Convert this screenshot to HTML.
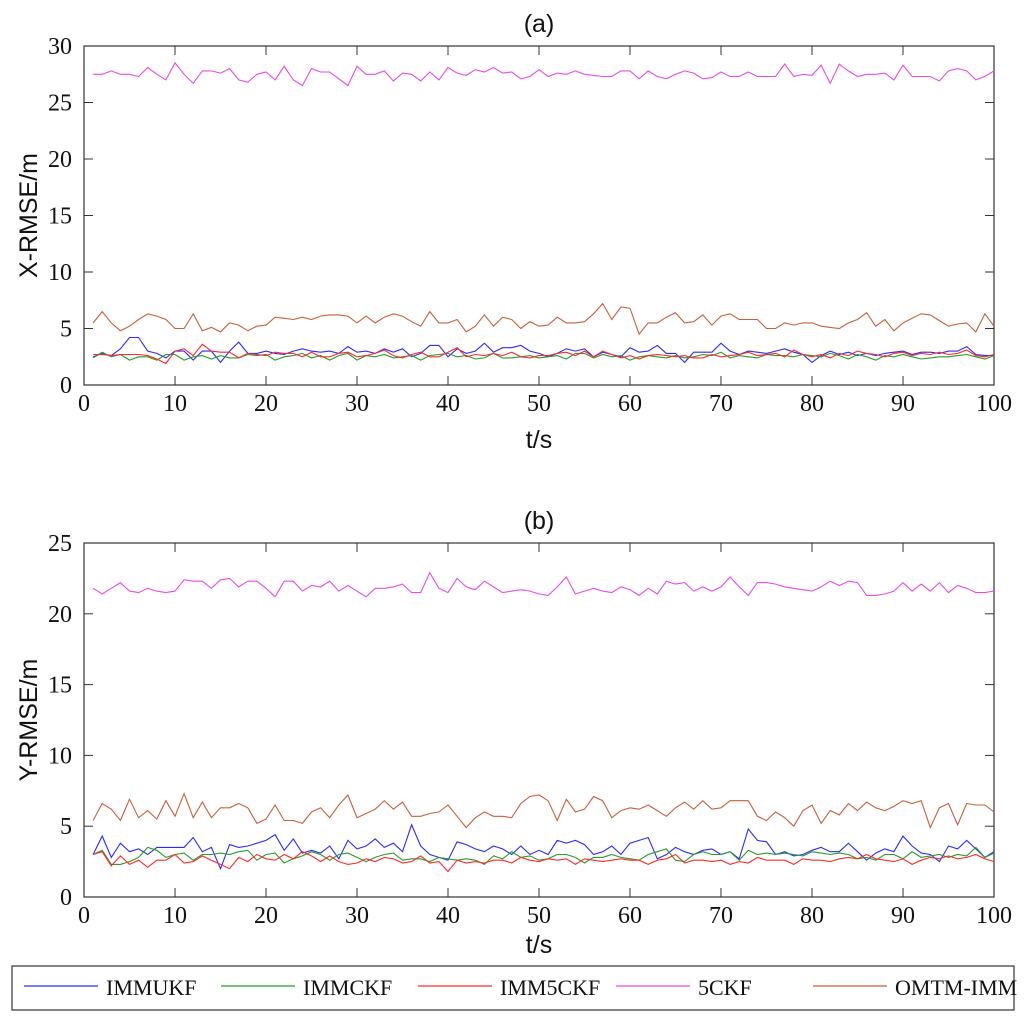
<!DOCTYPE html>
<html><head><meta charset="utf-8"><style>
body{margin:0;background:#fff}
svg{display:block}
.tick{font-family:"Liberation Serif",serif;font-size:24px;fill:#111}
.lab{font-family:"Liberation Sans",sans-serif;font-size:25px;fill:#111}
.leg{font-family:"Liberation Serif",serif;font-size:22px;fill:#111}
</style></head><body>
<svg id="chart" width="1024" height="1021" xmlns="http://www.w3.org/2000/svg"></svg>
<script>
const seriesNames=["IMMUKF","IMMCKF","IMM5CKF","5CKF","OMTM-IMM"];
const seriesColors=["#2b2bff","#2a9a2a","#ff2a2a","#e84ce8","#c8603a"];
const xTicks=[0,10,20,30,40,50,60,70,80,90,100];
const yTicksA=[0,5,10,15,20,25,30];
const yTicksB=[0,5,10,15,20,25];
const aUKF=[2.5,2.8,2.6,3.2,4.2,4.2,3.0,2.8,2.4,3.0,3.0,2.2,3.0,3.0,2.0,3.0,3.8,2.8,2.8,3.0,2.8,2.7,3.0,3.2,3.0,2.9,3.0,2.8,3.4,2.9,3.0,2.8,3.2,2.9,3.2,2.5,2.8,3.5,3.5,2.5,3.2,2.8,3.0,3.7,2.9,3.3,3.3,3.5,3.0,2.8,2.5,2.8,3.2,3.0,3.2,2.5,2.9,2.7,2.5,3.3,2.9,3.0,3.5,2.8,2.8,2.0,2.9,2.9,2.9,3.7,3.0,2.7,3.0,2.9,2.8,3.0,3.2,2.9,2.7,2.0,2.6,3.0,2.7,2.9,2.6,2.8,2.6,2.8,2.9,3.0,2.7,2.9,2.9,2.8,3.0,3.0,3.4,2.7,2.6,2.6];
const aCKF=[2.4,2.9,2.5,2.7,2.2,2.5,2.5,2.2,2.7,2.7,2.2,2.5,2.6,2.3,2.6,2.4,2.4,2.7,2.6,2.7,2.2,2.5,2.6,2.8,2.4,2.6,2.2,2.6,2.8,2.2,2.6,2.5,2.7,2.4,2.5,2.6,2.2,2.6,2.7,2.8,2.5,2.6,2.3,2.4,2.8,2.4,2.4,2.5,2.6,2.4,2.5,2.6,2.3,2.8,2.8,2.4,2.7,2.5,2.6,2.2,2.5,2.6,2.5,2.4,2.6,2.4,2.5,2.7,2.6,2.9,2.4,2.6,2.5,2.4,2.7,2.6,2.6,2.5,2.7,2.6,2.5,2.8,2.6,2.3,2.7,2.5,2.2,2.6,2.5,2.7,2.5,2.3,2.4,2.5,2.5,2.6,2.7,2.5,2.3,2.6];
const aCKF5=[2.7,2.7,2.6,2.7,2.7,2.7,2.6,2.3,1.9,3.0,3.2,2.6,3.6,3.0,2.9,2.9,2.4,2.8,2.7,2.6,2.9,2.8,2.8,2.5,2.9,2.5,2.5,2.8,2.9,2.5,2.6,2.8,3.1,2.6,2.4,2.7,2.9,2.5,2.5,2.9,3.3,2.5,2.7,2.6,2.8,2.6,2.9,2.5,2.4,2.6,2.6,2.8,2.9,2.6,3.0,2.5,3.0,2.7,2.4,2.6,2.3,2.6,2.7,2.6,2.5,2.6,2.4,2.4,2.7,2.5,2.6,2.7,2.9,2.6,2.7,2.8,2.5,3.1,2.7,2.5,2.7,2.4,2.8,2.6,3.0,2.8,2.7,2.5,2.8,2.9,2.6,2.8,2.7,2.9,2.7,2.8,3.1,2.6,2.5,2.7];
const a5CKF=[27.5,27.5,27.8,27.5,27.5,27.3,28.1,27.5,27.0,28.5,27.5,26.7,27.8,27.8,27.6,28.0,27.0,26.8,27.5,27.7,27.0,28.2,27.0,26.5,28.0,27.7,27.7,27.1,26.5,28.2,27.5,27.5,27.8,26.9,27.6,27.5,26.9,27.7,27.0,28.1,27.6,27.4,27.9,27.7,28.1,27.6,27.7,27.1,27.3,27.9,27.3,27.6,27.5,27.8,27.5,27.4,27.3,27.3,27.8,27.8,27.1,27.8,27.3,27.1,27.5,27.8,27.6,27.1,27.2,27.7,27.3,27.3,27.7,27.3,27.3,27.3,28.4,27.3,27.5,27.4,28.3,26.7,28.4,27.8,27.3,27.5,27.5,27.6,27.0,28.3,27.3,27.3,27.3,26.9,27.8,28.0,27.8,27.0,27.3,27.8];
const aOMTM=[5.5,6.5,5.5,4.8,5.2,5.8,6.3,6.1,5.8,5.0,5.0,6.3,4.8,5.1,4.7,5.5,5.3,4.8,5.2,5.3,6.0,5.9,5.8,6.0,5.8,6.1,6.2,6.2,6.1,5.5,6.1,5.5,6.0,6.3,6.1,5.6,5.2,6.5,5.5,5.5,5.8,4.7,5.2,6.2,5.2,6.0,5.8,5.0,5.6,5.2,5.3,6.0,5.5,5.5,5.6,6.3,7.2,5.8,6.9,6.8,4.5,5.5,5.5,6.0,6.4,5.5,5.6,6.2,5.3,6.1,6.3,5.8,5.8,5.8,5.0,5.0,5.5,5.3,5.5,5.5,5.2,5.1,5.0,5.5,5.8,6.4,5.2,5.8,4.8,5.5,5.9,6.3,6.2,5.7,5.2,5.4,5.5,4.7,6.3,5.2];
const bUKF=[3.0,4.3,2.8,3.8,3.2,3.4,3.0,3.5,3.5,3.5,3.5,4.2,3.2,3.5,2.0,3.7,3.5,3.6,3.8,4.0,4.4,3.3,4.1,3.1,3.3,3.1,3.6,2.7,4.0,3.4,3.6,4.1,3.5,3.8,3.2,5.1,3.6,3.0,2.8,2.6,3.9,3.7,3.4,3.2,3.6,3.4,3.0,3.6,3.0,3.3,3.0,4.0,3.8,4.0,3.7,3.0,3.2,3.6,3.0,3.8,4.0,4.2,2.7,3.0,3.5,3.2,3.0,3.3,3.4,3.0,3.2,2.7,4.8,4.0,3.9,3.0,3.2,2.9,3.0,3.3,3.5,3.2,3.2,3.8,3.2,2.6,3.1,3.4,3.2,4.3,3.6,3.1,3.0,2.5,3.6,3.4,4.0,3.4,2.8,3.2];
const bCKF=[3.0,3.3,2.3,2.3,2.5,2.8,3.5,3.3,2.8,3.0,3.1,2.6,3.0,3.0,3.1,3.0,3.2,3.3,2.6,3.0,3.1,2.4,2.7,2.9,3.2,3.0,2.6,3.0,3.1,2.8,2.5,2.8,3.0,3.1,2.6,2.7,2.7,2.5,2.8,2.7,2.6,2.7,2.6,2.3,2.9,2.7,3.2,2.8,2.9,2.6,2.7,3.0,3.0,2.8,2.4,2.8,2.8,3.0,2.8,2.7,2.6,3.0,3.2,3.4,2.6,2.5,3.0,3.2,3.0,3.0,3.2,2.6,3.3,3.0,3.1,3.0,3.1,3.0,2.9,3.2,3.1,3.0,3.1,3.0,2.7,2.8,2.6,3.0,3.0,2.7,3.2,2.8,2.9,3.0,2.8,3.0,2.9,3.5,2.8,3.1];
const bCKF5=[3.0,3.2,2.2,2.9,2.3,2.6,2.1,2.6,2.6,3.0,2.4,2.5,2.9,2.6,2.3,2.0,2.8,2.5,3.0,2.7,2.6,3.0,2.7,3.2,2.9,2.5,2.9,2.5,2.3,2.4,2.7,2.5,2.8,2.7,2.4,2.5,2.9,2.4,2.5,1.8,2.6,2.4,2.5,2.4,2.6,2.6,2.4,2.8,2.6,2.5,2.7,2.6,2.7,2.3,2.7,2.6,2.5,2.6,2.7,2.6,2.6,2.3,2.6,2.7,3.0,2.4,2.6,2.6,2.5,2.6,2.3,2.5,2.4,2.8,2.6,2.6,2.6,2.3,2.7,2.6,2.6,2.5,2.7,2.8,2.7,3.0,2.7,2.6,2.5,2.7,2.3,2.6,2.8,2.7,2.9,2.7,2.8,3.0,2.7,2.5];
const b5CKF=[21.8,21.4,21.8,22.2,21.6,21.5,21.8,21.6,21.5,21.6,22.4,22.3,22.3,21.8,22.4,22.5,21.9,22.3,22.3,21.8,21.2,22.3,22.3,21.6,22.0,21.9,22.3,21.6,22.0,21.6,21.2,21.8,21.8,21.9,22.1,21.5,21.5,22.9,21.8,21.5,22.5,21.9,21.7,22.3,21.9,21.5,21.6,21.7,21.6,21.4,21.3,21.9,22.6,21.4,21.6,21.8,21.6,21.5,21.9,21.7,21.3,21.8,21.4,22.3,22.1,22.2,21.6,21.9,21.6,21.9,22.6,21.9,21.3,22.2,22.2,22.1,21.9,21.8,21.7,21.6,21.9,22.3,22.0,22.3,22.2,21.3,21.3,21.4,21.6,22.2,21.6,22.1,21.6,22.2,21.5,22.0,21.8,21.5,21.5,21.6];
const bOMTM=[5.4,6.6,6.2,5.4,6.9,5.6,6.1,5.5,6.8,5.7,7.3,5.6,6.7,5.6,6.3,6.3,6.6,6.3,5.2,5.5,6.5,5.4,5.4,5.2,6.0,6.3,5.6,6.5,7.2,5.6,5.9,6.2,6.8,6.2,6.7,5.7,5.7,5.9,6.0,6.5,5.7,4.9,5.6,6.0,5.7,5.7,5.6,6.6,7.1,7.2,6.8,5.4,6.9,6.0,6.2,7.1,6.8,5.6,6.1,6.3,6.2,6.5,6.1,5.7,6.3,6.7,6.2,6.8,6.2,6.3,6.8,6.8,6.8,5.7,5.4,6.0,5.6,5.0,6.1,6.5,5.2,6.1,5.8,6.6,6.1,6.7,6.3,6.1,6.4,6.8,6.6,6.8,4.9,6.3,6.6,5.1,6.6,6.5,6.5,6.0];

const svg=document.getElementById('chart');
const NS='http://www.w3.org/2000/svg';
function mk(tag,attrs,parent){const e=document.createElementNS(NS,tag);for(const k in attrs)e.setAttribute(k,attrs[k]);(parent||svg).appendChild(e);return e;}
const X0=84,X1=994;
function xs(t){return X0+(t/100)*(X1-X0);}

function panel(title,yLabel,yTop,yBot,yMax,yTicks,data,key,xlOff){
  const g=mk('g',{});
  
  
  const ys=v=>yBot-(v/yMax)*(yBot-yTop);
  const box=mk('rect',{x:X0,y:yTop,width:X1-X0,height:yBot-yTop,fill:'#fff',stroke:'#333','stroke-width':1.2},g);
  
  
  xTicks.forEach(t=>{
    const x=xs(t);
    mk('line',{x1:x,x2:x,y1:yBot,y2:yBot-9,stroke:'#333'},g);
    mk('line',{x1:x,x2:x,y1:yTop,y2:yTop+9,stroke:'#333'},g);
    const tx=mk('text',{x:x,y:yBot+26,'text-anchor':'middle',class:'tick'},g);
    tx.textContent=t;
    
    
  });
  yTicks.forEach(v=>{
    const y=ys(v);
    mk('line',{x1:X0,x2:X0+9,y1:y,y2:y,stroke:'#333'},g);
    mk('line',{x1:X1,x2:X1-9,y1:y,y2:y,stroke:'#333'},g);
    const tx=mk('text',{x:X0-12,y:y+8,'text-anchor':'end',class:'tick'},g);
    tx.textContent=v;
    
    
  });
  data.forEach((arr,i)=>{
    const pts=arr.map((v,j)=>xs(j+1).toFixed(1)+','+ys(v).toFixed(1)).join(' ');
    const pl=mk('polyline',{points:pts,fill:'none',stroke:seriesColors[i],'stroke-width':1.1},g);
    
    
  });
  const tt=mk('text',{x:(X0+X1)/2,y:yTop-14,'text-anchor':'middle',class:'lab'},g);
  tt.textContent=title;
  
  
  const xl=mk('text',{x:(X0+X1)/2,y:yBot+xlOff,'text-anchor':'middle',class:'lab'},g);
  xl.textContent='t/s';
  
  
  const yc=(yTop+yBot)/2;
  const yl=mk('text',{x:37,y:yc,'text-anchor':'middle',class:'lab',transform:'rotate(-90 37 '+yc+')'},g);
  yl.textContent=yLabel;
  
  
}
panel('(a)','X-RMSE/m',46,385,30,yTicksA,[aUKF,aCKF,aCKF5,a5CKF,aOMTM],'a',63);
panel('(b)','Y-RMSE/m',543,897,25,yTicksB,[bUKF,bCKF,bCKF5,b5CKF,bOMTM],'b',56);

const lg=mk('g',{});


mk('rect',{x:12,y:966,width:1002,height:44,fill:'#fff',stroke:'#333','stroke-width':1.2},lg);
const legX=[24,221,418,616,813];
seriesNames.forEach((n,i)=>{
  const ent=mk('g',{},lg);
  
  
  mk('line',{x1:legX[i],x2:legX[i]+74,y1:986,y2:986,stroke:seriesColors[i],'stroke-width':1.2},ent);
  const t=mk('text',{x:legX[i]+82,y:995,class:'leg'},ent);
  t.textContent=n;
});
</script>
</body></html>
